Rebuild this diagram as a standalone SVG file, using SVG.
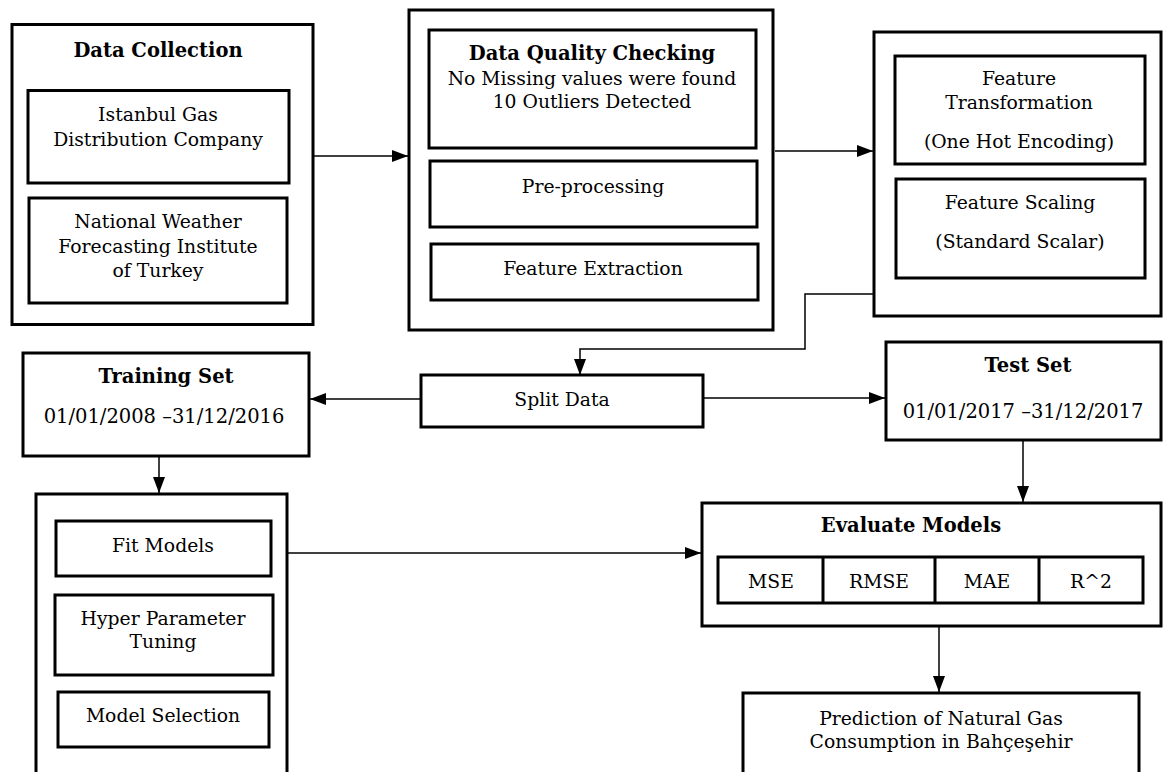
<svg xmlns="http://www.w3.org/2000/svg" width="1163" height="772" viewBox="0 0 1163 772">
<style>
.box{fill:#fff;stroke:#000;stroke-width:3}
.conn{fill:none;stroke:#000;stroke-width:1.5}
text{font-family:"DejaVu Serif","Liberation Serif",serif;font-size:18.8px;fill:#000;text-anchor:middle}
.b{font-weight:bold;font-size:19.5px}
.d{font-size:19.5px}
</style>
<defs>
<marker id="arr" viewBox="0 0 16 12" refX="16" refY="6" markerWidth="16" markerHeight="12" markerUnits="userSpaceOnUse" orient="auto">
<path d="M0,0 L16,6 L0,12 z" fill="#000"/>
</marker>
</defs>
<rect width="1163" height="772" fill="#fff"/>
<g id="connectors">
<path class="conn" d="M314,156 H408" marker-end="url(#arr)"/>
<path class="conn" d="M775,151 H873" marker-end="url(#arr)"/>
<path class="conn" d="M873,294 H805 V349 H580 V375" marker-end="url(#arr)"/>
<path class="conn" d="M421,399 H310" marker-end="url(#arr)"/>
<path class="conn" d="M703,398 H885" marker-end="url(#arr)"/>
<path class="conn" d="M159,456 V493" marker-end="url(#arr)"/>
<path class="conn" d="M1023,440 V502" marker-end="url(#arr)"/>
<path class="conn" d="M287,553 H701" marker-end="url(#arr)"/>
<path class="conn" d="M939,626 V692" marker-end="url(#arr)"/>
</g>
<g id="data-collection">
<rect class="box" x="12" y="24.5" width="301" height="300"/>
<text class="b" x="158" y="57">Data Collection</text>
</g>
<g id="istanbul-gas">
<rect class="box" x="28" y="90.5" width="261" height="92.5"/>
<text x="158" y="121">Istanbul Gas</text>
<text x="158" y="146">Distribution Company</text>
</g>
<g id="national-weather">
<rect class="box" x="29" y="198" width="258" height="105"/>
<text x="158" y="228">National Weather</text>
<text x="158" y="253">Forecasting Institute</text>
<text x="158" y="277">of Turkey</text>
</g>
<g id="data-quality-group">
<rect class="box" x="409" y="10" width="364" height="320"/>
</g>
<g id="data-quality">
<rect class="box" x="429" y="30" width="327" height="118"/>
<text class="b" x="592" y="60">Data Quality Checking</text>
<text x="592" y="85">No Missing values were found</text>
<text x="592" y="108">10 Outliers Detected</text>
</g>
<g id="pre-processing">
<rect class="box" x="430" y="161" width="327" height="66"/>
<text x="593" y="193">Pre-processing</text>
</g>
<g id="feature-extraction">
<rect class="box" x="431" y="244" width="327" height="56"/>
<text x="593" y="275">Feature Extraction</text>
</g>
<g id="feature-group">
<rect class="box" x="874" y="32" width="287" height="284"/>
</g>
<g id="feature-transformation">
<rect class="box" x="895" y="56" width="250" height="108"/>
<text x="1019" y="85">Feature</text>
<text x="1019" y="109">Transformation</text>
<text x="1019" y="148">(One Hot Encoding)</text>
</g>
<g id="feature-scaling">
<rect class="box" x="896" y="179" width="249" height="99"/>
<text x="1020" y="209">Feature Scaling</text>
<text x="1020" y="248">(Standard Scalar)</text>
</g>
<g id="split-data">
<rect class="box" x="421" y="375" width="282" height="52"/>
<text x="562" y="406">Split Data</text>
</g>
<g id="training-set">
<rect class="box" x="23" y="353" width="286" height="103"/>
<text class="b" x="166" y="383">Training Set</text>
<text class="d" x="164" y="423">01/01/2008 –31/12/2016</text>
</g>
<g id="test-set">
<rect class="box" x="886" y="342" width="275" height="98"/>
<text class="b" x="1028" y="372">Test Set</text>
<text class="d" x="1023" y="418">01/01/2017 –31/12/2017</text>
</g>
<g id="model-group">
<rect class="box" x="36" y="494" width="251" height="300"/>
</g>
<g id="fit-models">
<rect class="box" x="56" y="521" width="215" height="55"/>
<text x="163" y="552">Fit Models</text>
</g>
<g id="hyper-parameter">
<rect class="box" x="55" y="595" width="218" height="80"/>
<text x="163" y="625">Hyper Parameter</text>
<text x="163" y="648">Tuning</text>
</g>
<g id="model-selection">
<rect class="box" x="58" y="692" width="211" height="55"/>
<text x="163" y="722">Model Selection</text>
</g>
<g id="evaluate-models">
<rect class="box" x="702" y="503" width="459" height="123"/>
<text class="b" x="911" y="532">Evaluate Models</text>
</g>
<g id="metrics">
<rect class="box" x="718" y="557" width="425" height="46"/>
<path d="M823,557 V603 M935,557 V603 M1039,557 V603" stroke="#000" stroke-width="3"/>
<text x="771" y="588">MSE</text>
<text x="879" y="588">RMSE</text>
<text x="987" y="588">MAE</text>
<text x="1091" y="588">R^2</text>
</g>
<g id="prediction">
<rect class="box" x="743" y="693" width="396" height="100"/>
<text x="941" y="725">Prediction of Natural Gas</text>
<text x="941" y="748">Consumption in Bahçeşehir</text>
</g>
</svg>
